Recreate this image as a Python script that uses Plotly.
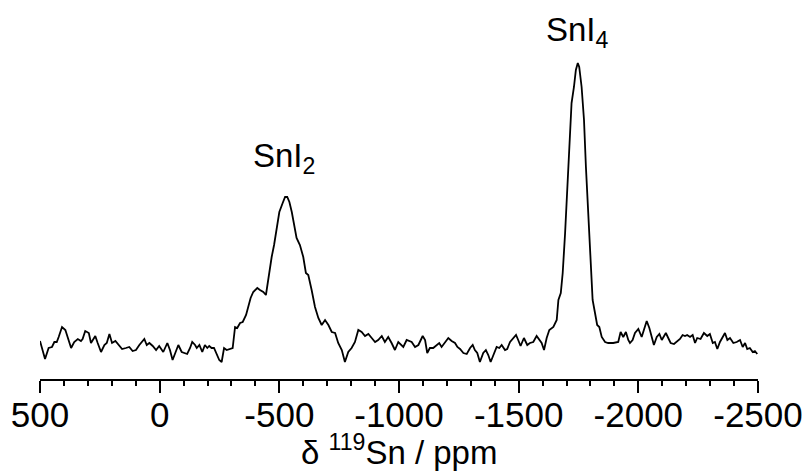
import plotly.graph_objects as go

# Chemical shift (ppm) and intensity (arbitrary units)
shift_ppm = [
    500, 479, 464, 450, 440, 430, 422, 408, 394, 384, 370, 357, 342, 329, 322, 311, 296, 287, 277, 269,
    259, 245, 231, 221, 210, 199, 185, 171, 157, 141, 127, 113, 99, 85, 74, 64, 54, 43, 29, 15, 2,
    -15, -32, -43, -54, -68, -78, -92, -106, -115, -127, -136, -148, -155, -166, -178, -189, -199, -207,
    -217, -227, -238, -249, -259, -269, -280, -294, -305, -315, -324, -336, -347, -361, -370, -380,
    -391, -408, -419, -433, -444, -454, -468, -478, -491, -500, -514, -524, -533, -542, -552, -565,
    -572, -586, -600, -611, -621, -635, -649, -663, -677, -691, -705, -719, -733, -746, -761, -774,
    -788, -802, -816, -830, -844, -858, -872, -886, -900, -913, -928, -941, -955, -969, -983, -997,
    -1018, -1032, -1053, -1067, -1081, -1099, -1109, -1118, -1129, -1143, -1157, -1168, -1178, -1192,
    -1206, -1220, -1234, -1244, -1255, -1269, -1283, -1297, -1308, -1317, -1327, -1338, -1352, -1363,
    -1373, -1383, -1397, -1408, -1419, -1429, -1443, -1452, -1464, -1477, -1489, -1498, -1508, -1522,
    -1536, -1547, -1561, -1575, -1586, -1596, -1606, -1617, -1628, -1645, -1659, -1666, -1676, -1684,
    -1694, -1705, -1714, -1721, -1731, -1739, -1747, -1753, -1763, -1773, -1781, -1791, -1801, -1809,
    -1819, -1828, -1837, -1847, -1861, -1874, -1895, -1916, -1926, -1937, -1948, -1958, -1965, -1976,
    -1986, -2000, -2014, -2024, -2035, -2046, -2056, -2065, -2077, -2088, -2098, -2107, -2115, -2125,
    -2135, -2149, -2160, -2174, -2185, -2195, -2204, -2216, -2227, -2237, -2246, -2260, -2274, -2288,
    -2299, -2311, -2320, -2330, -2341, -2352, -2362, -2372, -2383, -2397, -2411, -2425, -2436, -2446,
    -2455, -2466, -2478, -2487, -2497,
]
intensity = [
    19, 1, 12, 13, 18, 18, 23, 33, 30, 22, 12, 18, 21, 19, 21, 29, 27, 17, 21, 24,
    17, 8, 15, 17, 26, 17, 19, 15, 11, 12, 13, 9, 10, 15, 18, 21, 15, 17, 14, 10, 14,
    8, 17, 10, 0, 10, 15, 8, 7, 6, 12, 18, 15, 12, 15, 8, 15, 12, 14,
    12, 12, 5, 0, -2, 12, 10, 11, 12, 33, 32, 37, 38, 45, 52, 62,
    68, 72, 70, 68, 65, 83, 103, 115, 133, 148, 157, 163, 163, 158, 148, 133,
    122, 115, 103, 87, 85, 70, 53, 42, 35, 40, 35, 28, 27, 17, 10, -2,
    8, 12, 18, 30, 28, 24, 26, 22, 18, 20, 24, 18, 23, 17, 10, 18,
    13, 20, 18, 13, 15, 24, 20, 7, 12, 12, 15, 17, 13, 18,
    22, 19, 17, 13, 11, 7, 6, 12, 15, 10, 7, -2, 7, 10,
    5, -2, 7, 13, 12, 15, 10, 11, 18, 22, 25, 20, 14, 22,
    15, 17, 18, 24, 20, 17, 10, 22, 30, 33, 40, 60, 67, 87,
    127, 177, 220, 257, 273, 290, 297, 293, 273, 240, 193, 143, 93, 60,
    47, 35, 33, 23, 18, 17, 17, 18, 28, 23, 28, 20, 17, 20,
    27, 31, 23, 30, 39, 32, 23, 15, 23, 26, 20, 24, 27, 22,
    17, 16, 18, 21, 25, 24, 25, 23, 25, 17, 22, 21, 27, 24,
    26, 17, 18, 11, 18, 23, 27, 20, 22, 17, 18, 20, 13, 17,
    11, 12, 8, 9, 6,
]

# Peak labels
peak_labels = ["SnI<sub>2</sub>", "SnI<sub>4</sub>"]
peak_label_x = [-520, -1747]
peak_label_y = [202, 328]

tick_vals = [500, 0, -500, -1000, -1500, -2000, -2500]
tick_text = ["500", "0", "-500", "-1000", "-1500", "-2000", "-2500"]
x_title = "δ <sup>119</sup>Sn / ppm"

FONT = "Liberation Sans, Arial, Helvetica, sans-serif"

fig = go.Figure()
fig.add_trace(go.Scatter(
    x=shift_ppm, y=intensity, mode="lines",
    line=dict(color="black", width=1.8),
    hoverinfo="skip", showlegend=False,
))

for t, xv, yv in zip(peak_labels, peak_label_x, peak_label_y):
    fig.add_annotation(x=xv, y=yv, xref="x", yref="y", text=t, showarrow=False,
                       xanchor="center", yanchor="middle",
                       font=dict(family=FONT, size=33, color="black"))

fig.add_annotation(x=0.5, y=-0.198, xref="paper", yref="paper", text=x_title, showarrow=False,
                   xanchor="center", yanchor="middle",
                   font=dict(family=FONT, size=33, color="black"))

fig.update_layout(
    width=807, height=473,
    margin=dict(l=40, r=49, t=20, b=94),
    paper_bgcolor="white", plot_bgcolor="white",
    font=dict(family=FONT, color="black"),
    xaxis=dict(
        range=[500, -2500], automargin=False,
        showline=True, linecolor="black", linewidth=2,
        showgrid=False, zeroline=False,
        ticks="outside", ticklen=12, tickwidth=1.5, tickcolor="black",
        tickvals=tick_vals, ticktext=tick_text, ticklabelstandoff=-8,
        tickfont=dict(family=FONT, size=35, color="black"),
        minor=dict(dtick=100, tick0=0, ticks="outside", ticklen=5, tickwidth=1.5, tickcolor="black", showgrid=False),
    ),
    yaxis=dict(range=[-19, 340], visible=False, automargin=False),
)

fig.write_html("out.html", config={"displayModeBar": False},
               post_script="document.body.style.margin='0';document.body.style.overflow='hidden';")
